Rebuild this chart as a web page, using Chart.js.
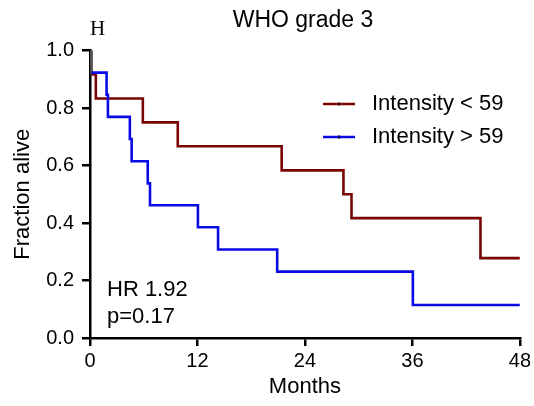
<!DOCTYPE html>
<html>
<head>
<meta charset="utf-8">
<script src="https://cdn.jsdelivr.net/npm/chart.js@4.4.1/dist/chart.umd.min.js"></script>
<style>
  html, body { margin: 0; padding: 0; background: #fff; }
  #wrap { width: 534px; height: 406px; position: relative; }
</style>
</head>
<body>
<div id="wrap"><canvas id="km" width="534" height="406"></canvas></div>
<script>
// Kaplan-Meier steps (months, fraction alive)
const lowTimes = [0, 0.15, 0.65, 5.9, 9.8, 21.4, 28.3, 29.2, 43.6, 48];
const lowSurv = [1, 0.917, 0.833, 0.75, 0.667, 0.583, 0.5, 0.417, 0.278, 0.278];
const highTimes = [0, 0.15, 1.85, 2.0, 4.45, 4.65, 6.45, 6.7, 12.05, 14.3, 20.9, 36.05, 48];
const highSurv = [1, 0.923, 0.846, 0.769, 0.692, 0.615, 0.538, 0.462, 0.385, 0.308, 0.231, 0.115, 0.115];
const seriesLabels = ['Intensity < 59', 'Intensity > 59'];
const xTicks = [0, 12, 24, 36, 48];
const yTicks = [0, 0.2, 0.4, 0.6, 0.8, 1.0];
const chartTitle = 'WHO grade 3';
const statLines = ['HR 1.92', 'p=0.17'];

const FONT = 'Liberation Sans, Arial, sans-serif';
const RED = '#7a0505';
const BLUE = '#0a0ae6';

const toPoints = (xs, ys) => xs.map((x, i) => ({ x, y: ys[i] }));

// first drop of both curves overlaps, it shows as gray in the original
const firstSegGray = (color) => ({
  borderColor: ctx => ctx.p0DataIndex === 0 ? '#505050' : color
});

const annotations = {
  id: 'annotations',
  afterDraw(chart) {
    const { ctx } = chart;
    ctx.save();
    ctx.fillStyle = '#000';
    ctx.textBaseline = 'alphabetic';

    // title
    ctx.font = '23px ' + FONT;
    ctx.textAlign = 'center';
    ctx.fillText(chartTitle, 303, 27);

    // stray "H" above the y axis
    ctx.font = '21px "Liberation Serif", "DejaVu Serif", serif';
    ctx.textAlign = 'left';
    ctx.fillText('H', 90, 35);

    // legend
    const legendColors = [RED, BLUE];
    ctx.font = '22px ' + FONT;
    ctx.textBaseline = 'middle';
    seriesLabels.forEach((lab, i) => {
      const y = 104 + i * 33;
      ctx.strokeStyle = legendColors[i];
      ctx.lineWidth = 2.5;
      ctx.beginPath();
      ctx.moveTo(323, y);
      ctx.lineTo(355, y);
      ctx.stroke();
      ctx.strokeStyle = '#000';
      ctx.lineWidth = 1;
      ctx.beginPath();
      ctx.moveTo(339, y - 2);
      ctx.lineTo(339, y + 2);
      ctx.stroke();
      ctx.fillText(lab, 372, y);
    });

    // stats
    statLines.forEach((s, i) => ctx.fillText(s, 107, 290 + i * 27));
    ctx.restore();
  }
};

new Chart(document.getElementById('km'), {
  type: 'scatter',
  data: {
    datasets: [
      {
        label: seriesLabels[1],
        data: toPoints(highTimes, highSurv),
        showLine: true,
        stepped: true,
        borderColor: BLUE,
        borderWidth: 2.6,
        pointRadius: 0,
        segment: firstSegGray(BLUE)
      },
      {
        label: seriesLabels[0],
        data: toPoints(lowTimes, lowSurv),
        showLine: true,
        stepped: true,
        borderColor: RED,
        borderWidth: 2.6,
        pointRadius: 0,
        segment: firstSegGray(RED)
      }
    ]
  },
  options: {
    responsive: false,
    animation: false,
    devicePixelRatio: 1,
    layout: { padding: { top: 50.5, right: 14, left: 0, bottom: 0 } },
    plugins: {
      legend: { display: false },
      title: { display: false },
      tooltip: { enabled: false }
    },
    scales: {
      x: {
        type: 'linear',
        min: 0,
        max: 48,
        afterFit: s => { s.height = 68; },
        afterBuildTicks: s => { s.ticks = xTicks.map(v => ({ value: v })); },
        ticks: {
          color: '#000',
          font: { family: FONT, size: 20 },
          padding: 3,
          maxRotation: 0
        },
        grid: { drawOnChartArea: false, drawTicks: true, tickLength: 8, color: '#000', lineWidth: 2.5 },
        border: { display: true, color: '#000', width: 2.5 },
        title: {
          display: true,
          text: 'Months',
          color: '#000',
          font: { family: FONT, size: 22 },
          padding: { top: 0, bottom: 6 }
        }
      },
      y: {
        type: 'linear',
        min: 0,
        max: 1,
        afterFit: s => { s.width = 90; },
        afterBuildTicks: s => { s.ticks = yTicks.map(v => ({ value: v })); },
        ticks: {
          color: '#000',
          font: { family: FONT, size: 20 },
          padding: 8,
          callback: v => v.toFixed(1)
        },
        grid: { drawOnChartArea: false, drawTicks: true, tickLength: 8, color: '#000', lineWidth: 2.5 },
        border: { display: true, color: '#000', width: 2.5 },
        title: {
          display: true,
          text: 'Fraction alive',
          color: '#000',
          font: { family: FONT, size: 22 },
          padding: { top: 10, bottom: 0 }
        }
      }
    }
  },
  plugins: [annotations]
});
</script>
</body>
</html>
